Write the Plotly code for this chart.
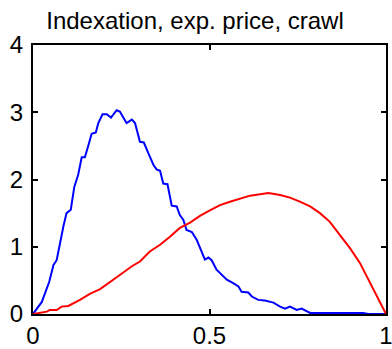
import plotly.graph_objects as go

blue_x = [0, 0.025, 0.046, 0.058, 0.067, 0.076, 0.086, 0.095, 0.107, 0.117, 0.128, 0.138, 0.147,
          0.157, 0.166, 0.178, 0.185, 0.197, 0.209, 0.221, 0.237, 0.246, 0.265, 0.280, 0.289,
          0.303, 0.314, 0.327, 0.341, 0.350, 0.360, 0.369, 0.381, 0.393, 0.407, 0.416, 0.426,
          0.435, 0.450, 0.464, 0.478, 0.487, 0.497, 0.506, 0.520, 0.535, 0.549, 0.567, 0.582,
          0.591, 0.610, 0.620, 0.638, 0.657, 0.681, 0.700, 0.714, 0.728, 0.747, 0.761, 0.785,
          0.935, 0.95, 1.0]
blue_y = [0, 0.18, 0.48, 0.73, 0.80, 1.05, 1.30, 1.50, 1.55, 1.89, 2.07, 2.33, 2.33,
          2.51, 2.68, 2.70, 2.84, 2.97, 2.97, 2.92, 3.03, 3.01, 2.84, 2.89, 2.84,
          2.56, 2.55, 2.39, 2.22, 2.15, 2.13, 1.94, 1.93, 1.61, 1.60, 1.47, 1.40,
          1.25, 1.22, 1.10, 0.93, 0.81, 0.84, 0.80, 0.66, 0.58, 0.51, 0.46, 0.41,
          0.33, 0.32, 0.26, 0.21, 0.20, 0.17, 0.11, 0.08, 0.11, 0.06, 0.08, 0.015,
          0.015, 0.0, 0.0]

red_x = [0, 0.039, 0.048, 0.067, 0.081, 0.1, 0.133, 0.161, 0.19, 0.218, 0.246, 0.28, 0.303,
         0.331, 0.36, 0.388, 0.416, 0.445, 0.473, 0.501, 0.53, 0.558, 0.586, 0.615, 0.643,
         0.667, 0.70, 0.728, 0.756, 0.785, 0.813, 0.841, 0.87, 0.898, 0.926, 0.955, 0.978, 1.0]
red_y = [0, 0.035, 0.06, 0.06, 0.11, 0.12, 0.21, 0.30, 0.37, 0.47, 0.58, 0.71, 0.78,
         0.93, 1.03, 1.15, 1.28, 1.36, 1.46, 1.54, 1.62, 1.67, 1.72, 1.76, 1.78,
         1.80, 1.77, 1.73, 1.67, 1.60, 1.50, 1.37, 1.17, 0.98, 0.76, 0.46, 0.23, 0]

x_ticks = [0, 0.5, 1]
x_labels = ["0", "0.5", "1"]
y_ticks = [0, 1, 2, 3, 4]
y_labels = ["0", "1", "2", "3", "4"]
title_text = "Indexation, exp. price, crawl"

FONT = "Liberation Sans, Arial, sans-serif"

fig = go.Figure()
fig.add_trace(go.Scatter(x=blue_x, y=blue_y, mode="lines",
                         line=dict(color="#0000ff", width=2), showlegend=False))
fig.add_trace(go.Scatter(x=red_x, y=red_y, mode="lines",
                         line=dict(color="#ff0000", width=2), showlegend=False))

fig.update_layout(
    width=392, height=349,
    margin=dict(l=33, r=6, t=45, b=35, autoexpand=False),
    paper_bgcolor="white", plot_bgcolor="white",
    font=dict(family=FONT, color="black", size=24),
    title=dict(text=title_text, x=(195 - 33) / 353, xref="paper", xanchor="center",
               y=1 - 21 / 349, yref="container", yanchor="middle",
               font=dict(family=FONT, size=24, color="black")),
    xaxis=dict(range=[0, 1], tickvals=x_ticks, ticktext=x_labels, automargin=False,
               showgrid=False, zeroline=False, showline=True, linecolor="black",
               linewidth=2, mirror="allticks", ticks="inside", ticklen=5,
               tickcolor="black", tickwidth=1.5, ticklabelstandoff=-1,
               ticklabeloverflow="allow", tickfont=dict(size=24)),
    yaxis=dict(range=[0, 4], tickvals=y_ticks, ticktext=y_labels, automargin=False,
               showgrid=False, zeroline=False, showline=True, linecolor="black",
               linewidth=2, mirror="allticks", ticks="inside", ticklen=5,
               tickcolor="black", tickwidth=1.5, ticklabelstandoff=3,
               ticklabeloverflow="allow", tickfont=dict(size=24)),
)

fig.write_html("out.html")
